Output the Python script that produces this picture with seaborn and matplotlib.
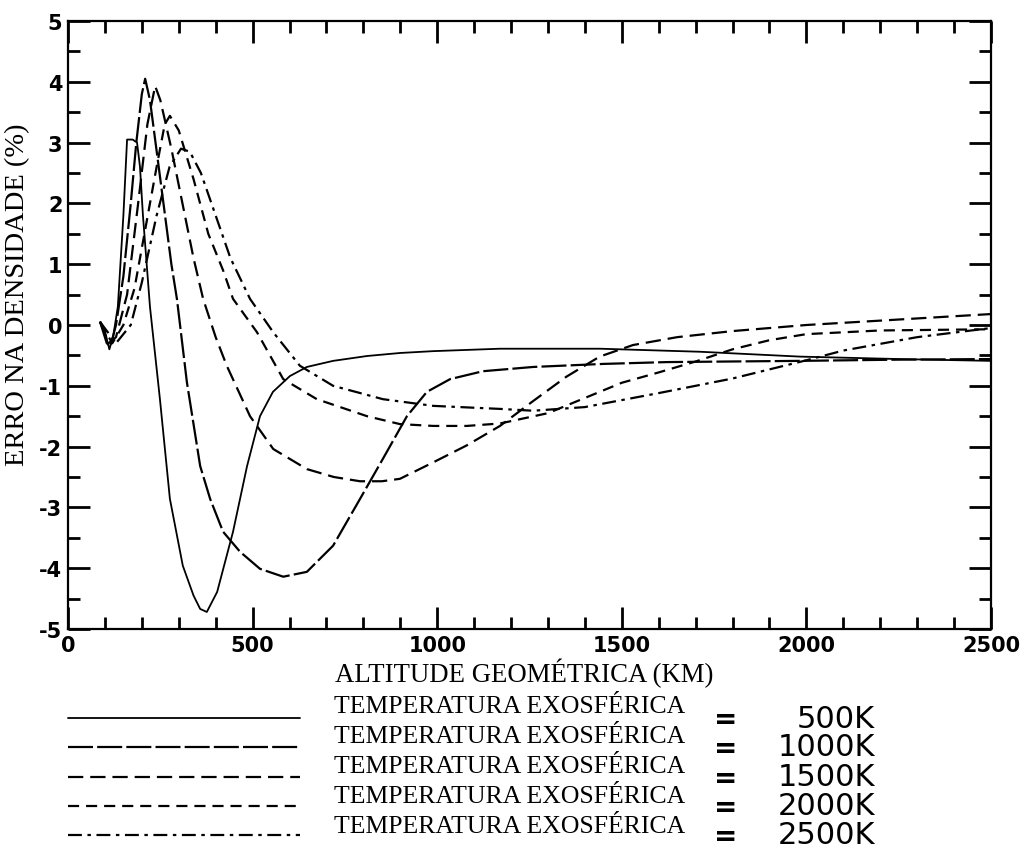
import numpy as np
import pandas as pd
import matplotlib
matplotlib.use("Agg")
import matplotlib.pyplot as plt
from matplotlib.lines import Line2D
import seaborn as sns

# ---------------- data ----------------
km_500 = [87, 100, 112, 122, 135, 150, 160, 175, 187, 195, 203, 222, 249, 276, 311, 340, 358, 376,
          404, 447, 485, 520, 555, 601, 647, 718, 810, 900, 989, 1170, 1441, 1712, 1983, 2250, 2500]
val_500 = [0.05, -0.1, -0.4, -0.2, 0.3, 1.8, 3.05, 3.05, 3.0, 2.6, 1.8, 0.3, -1.22, -2.86, -3.96, -4.45, -4.67, -4.72,
           -4.39, -3.40, -2.32, -1.50, -1.10, -0.84, -0.69, -0.59, -0.51, -0.46, -0.43, -0.39, -0.39, -0.44, -0.52, -0.56, -0.59]

km_1000 = [87, 105, 115, 130, 150, 170, 185, 200, 209, 222, 250, 280, 295, 322, 358, 385, 420, 466, 520, 583,
           647, 718, 791, 853, 918, 972, 1035, 1124, 1260, 1450, 1622, 1800, 1983, 2250, 2500]
val_1000 = [0.05, -0.3, -0.35, 0.0, 0.8, 2.0, 3.0, 3.8, 4.05, 3.7, 2.4, 1.0, 0.43, -0.94, -2.32, -2.86, -3.40, -3.73, -4.01, -4.14,
            -4.06, -3.63, -2.86, -2.20, -1.50, -1.10, -0.89, -0.76, -0.69, -0.64, -0.61, -0.60, -0.59, -0.57, -0.56]

km_1500 = [87, 110, 130, 160, 190, 215, 236, 250, 280, 310, 340, 366, 400, 430, 493, 556, 647, 720, 791, 850,
           899, 989, 1080, 1170, 1260, 1350, 1440, 1530, 1650, 1800, 2000, 2250, 2500]
val_1500 = [0.05, -0.3, -0.2, 0.5, 2.0, 3.3, 3.93, 3.7, 2.9, 2.0, 1.1, 0.43, -0.2, -0.67, -1.5, -2.04, -2.37, -2.5, -2.57, -2.57,
            -2.53, -2.26, -1.98, -1.66, -1.25, -0.85, -0.52, -0.33, -0.2, -0.1, 0.0, 0.09, 0.18]

km_2000 = [87, 120, 150, 180, 210, 240, 262, 276, 300, 340, 380, 420, 447, 512, 583, 674, 810, 899, 989, 1080,
           1170, 1300, 1400, 1500, 1600, 1700, 1800, 1900, 2000, 2200, 2500]
val_2000 = [0.05, -0.3, 0.0, 0.6, 1.6, 2.6, 3.3, 3.44, 3.2, 2.4, 1.5, 0.9, 0.43, -0.12, -0.89, -1.22, -1.5, -1.63, -1.66, -1.66,
            -1.62, -1.45, -1.2, -0.95, -0.78, -0.6, -0.4, -0.25, -0.15, -0.09, -0.07]

km_2500 = [87, 130, 170, 200, 240, 275, 306, 330, 360, 400, 440, 493, 556, 628, 718, 853, 989, 1170, 1260, 1400,
           1600, 1800, 2000, 2100, 2300, 2500]
val_2500 = [0.05, -0.3, 0.0, 0.7, 1.8, 2.6, 2.9, 2.85, 2.5, 1.8, 1.1, 0.43, -0.12, -0.67, -1.0, -1.22, -1.33, -1.38, -1.41, -1.35,
            -1.12, -0.88, -0.58, -0.42, -0.2, -0.05]

temps = ["500K", "1000K", "1500K", "2000K", "2500K"]
x_ticks = [0, 500, 1000, 1500, 2000, 2500]
y_ticks = [-5, -4, -3, -2, -1, 0, 1, 2, 3, 4, 5]
x_label = "ALTITUDE GEOMÉTRICA (KM)"
y_label = "ERRO NA DENSIDADE (%)"
legend_text = "TEMPERATURA EXOSFÉRICA"

series = [(km_500, val_500), (km_1000, val_1000), (km_1500, val_1500),
          (km_2000, val_2000), (km_2500, val_2500)]

# ---------------- style ----------------
sns.set_style("ticks")
plt.rcParams["lines.scale_dashes"] = False
plt.rcParams["font.family"] = ["DejaVu Sans"]
plt.rcParams["text.color"] = "black"
plt.rcParams["xtick.color"] = "black"
plt.rcParams["ytick.color"] = "black"

styles = [
    dict(ls="-", lw=1.3),
    dict(ls=(0, (18, 3)), lw=1.6),
    dict(ls=(0, (11, 5)), lw=1.6),
    dict(ls=(0, (8, 5)), lw=1.6),
    dict(ls=(0, (10, 4, 2.5, 4)), lw=1.6),
]

W, H = 1027, 854
fig = plt.figure(figsize=(W / 100, H / 100), dpi=100)
ax = fig.add_axes([68 / W, 1 - 630 / H, (991 - 68) / W, (630 - 22) / H])

for (k, v), t, st in zip(series, temps, styles):
    df = pd.DataFrame({"km": k, "val": v})
    sns.lineplot(data=df, x="km", y="val", ax=ax, color="black", sort=False,
                 estimator=None, linestyle=st["ls"], linewidth=st["lw"])

ax.set_xlim(0, 2500)
ax.set_ylim(-5, 5)
ax.set_xlabel("")
ax.set_ylabel("")
ax.set_xticks(x_ticks)
ax.set_yticks(y_ticks)
ax.set_xticks(np.arange(0, 2501, 100), minor=True)
ax.set_yticks(np.arange(-5, 5.01, 0.5), minor=True)
ax.tick_params(which="both", direction="in", top=True, right=True, width=2,
               color="black", labelcolor="black")
ax.tick_params(which="major", length=16, pad=5)
ax.tick_params(which="minor", length=8.5)
ax.set_xticklabels([str(t) for t in x_ticks], fontsize=15, fontweight="bold",
                   family="DejaVu Sans", color="black")
ax.set_yticklabels([str(t) for t in y_ticks], fontsize=15, fontweight="bold",
                   family="DejaVu Sans", color="black")
ax.tick_params(axis="x", pad=4)
ax.tick_params(axis="y", pad=4)
for s in ax.spines.values():
    s.set_linewidth(1.6)
    s.set_color("black")

serif = "Liberation Serif"
fig.text(524 / W, 1 - 673 / H, x_label, ha="center", va="center", fontsize=19.3,
         family=serif, color="black")
fig.text(18 / W, 1 - 295 / H, y_label, ha="center", va="center", rotation=90,
         fontsize=20.5, family=serif, color="black")

# ---------------- legend (drawn manually below the axes) ----------------
text_rows = [707, 737, 767, 797, 827]
line_rows = [719, 748, 778, 807, 836]
for i, (t, st) in enumerate(zip(temps, styles)):
    y_line = 1 - line_rows[i] / H
    fig.add_artist(Line2D([68 / W, 300 / W], [y_line, y_line], color="black",
                          linestyle=st["ls"], linewidth=st["lw"], transform=fig.transFigure))
    fig.text(334 / W, 1 - text_rows[i] / H, legend_text, ha="left", va="center",
             fontsize=18.5, family=serif, color="black")
    fig.text(726 / W, 1 - (line_rows[i] + 1) / H, "=", ha="center", va="center",
             fontsize=20, fontweight="bold", family="DejaVu Sans", color="black")
    fig.text(875 / W, 1 - line_rows[i] / H, t, ha="right", va="center",
             fontsize=22, family="DejaVu Sans", color="black")

fig.savefig("out.png", dpi=100)
